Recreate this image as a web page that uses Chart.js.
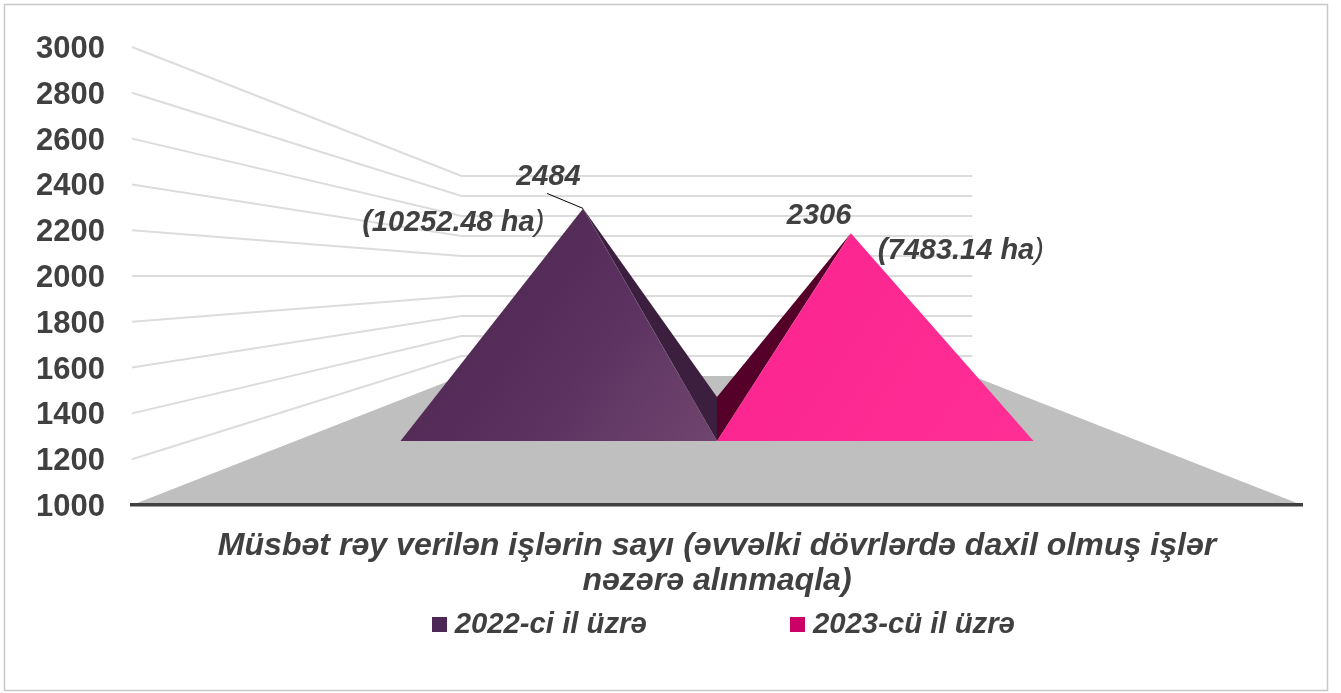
<!DOCTYPE html>
<html>
<head>
<meta charset="utf-8">
<style>html,body{margin:0;padding:0;background:#fff}canvas{display:block}</style>
<script src="https://cdn.jsdelivr.net/npm/chart.js@4/dist/chart.umd.js"></script>
</head>
<body>
<div style="width:1341px;height:693px"><canvas id="c"></canvas></div>
<script>
const categoryLines = ["Müsbət rəy verilən işlərin sayı (əvvəlki dövrlərdə daxil olmuş işlər", "nəzərə alınmaqla)"];
const seriesNames = ["2022-ci il üzrə", "2023-cü il üzrə"];
const seriesValues = [[2484], [2306]];
const areaLabels = ["(10252.48 ha)", "(7483.14 ha)"];
const axisMin = 1000, axisMax = 3000, axisStep = 200;
const legendColors = ["#4b2855", "#cc0066"];

const FONT = "'Liberation Sans', Arial, sans-serif";
const TEXT = "#404040";
// perspective of the 3D box: front plane -> back wall
const depthFront = 0.7205, depthBack = 0.528, depthBackWall = 0.4367;
const depthCenter = 2 / (1 / depthFront + 1 / depthBack);
const faces = [
  {front: ["#4f2852", "#5b3160", "#70466f"], side: "#3c1f3e"},
  {front: ["#fb2590", "#fd2a92", "#ff2f96"], side: "#540029"}
];
const labelOffsets = [
  {value: [-67, -23], area: [-221, 23], leader: [-36, -15]},
  {value: [-64, -9], area: [27, 26], leader: null}
];

function vanish(chart) {
  const a = chart.chartArea;
  return {x: (a.left + a.right) / 2, y: a.bottom - (a.bottom - a.top) * 0.5};
}
function project(v, x, y, f) {
  return {x: v.x + (x - v.x) * f, y: v.y + (y - v.y) * f};
}

class PyramidController extends Chart.BarController {
  draw() {
    const chart = this.chart, ctx = chart.ctx, v = vanish(chart);
    const style = faces[this.index];
    const b = chart.scales.y.getPixelForValue(axisMin);
    this._cachedMeta.data.forEach((bar) => {
      const l = bar.x - bar.width / 2, r = bar.x + bar.width / 2;
      const fl = project(v, l, b, depthFront), fr = project(v, r, b, depthFront);
      const bl = project(v, l, b, depthBack), br = project(v, r, b, depthBack);
      const apex = project(v, bar.x, bar.y, depthCenter);
      const poly = (pts, fill) => {
        ctx.beginPath();
        pts.forEach((p, i) => i ? ctx.lineTo(p.x, p.y) : ctx.moveTo(p.x, p.y));
        ctx.closePath();
        ctx.fillStyle = fill;
        ctx.fill();
      };
      ctx.save();
      if (bar.x < v.x) poly([fr, br, apex], style.side);
      else poly([fl, bl, apex], style.side);
      const g = ctx.createLinearGradient(fl.x, apex.y, fr.x, fr.y);
      g.addColorStop(0.2, style.front[0]);
      g.addColorStop(0.6, style.front[1]);
      g.addColorStop(1, style.front[2]);
      poly([fl, fr, apex], g);
      ctx.restore();
    });
  }
}
PyramidController.id = "pyramid";
PyramidController.defaults = Chart.BarController.defaults;
PyramidController.overrides = Chart.BarController.overrides;
Chart.register(PyramidController);

const boxPlugin = {
  id: "box3d",
  beforeLayout(chart) {
    const legend = chart.legend;
    if (legend && !legend._fitWrapped) {
      const fit = legend.fit;
      legend.fit = function () { fit.call(this); this.height = 70; };
      legend._fitWrapped = true;
    }
  },
  afterLayout(chart) {
    const legend = chart.legend, P = legend.options.labels.padding;
    legend.left = 439 - P;
    legend.top = 624 - 14 - P;
    chart.scales.y.getLabelItems().forEach((it) => { it.options.translation[1] += 2.5; });
  },
  beforeDraw(chart) {
    const ctx = chart.ctx, a = chart.chartArea, v = vanish(chart), y = chart.scales.y;
    ctx.save();
    ctx.fillStyle = "#fff";
    ctx.fillRect(0, 0, chart.width, chart.height);
    ctx.strokeStyle = "#c8c8c8";
    ctx.lineWidth = 1.5;
    ctx.strokeRect(4.5, 4.5, 1323, 686);
    ctx.strokeStyle = "#dcdcdc";
    ctx.lineWidth = 2;
    y.ticks.forEach((t) => {
      const py = y.getPixelForValue(t.value);
      if (t.value === axisMin) return;
      const bL = project(v, a.left, py, depthBackWall), bR = project(v, a.right, py, depthBackWall);
      ctx.beginPath();
      ctx.moveTo(a.left, py);
      ctx.lineTo(bL.x, bL.y);
      ctx.lineTo(bR.x, bR.y);
      ctx.stroke();
    });
    const b0 = y.getPixelForValue(axisMin);
    const bL = project(v, a.left, b0, depthBackWall), bR = project(v, a.right, b0, depthBackWall);
    ctx.fillStyle = "#bfbfbf";
    ctx.beginPath();
    ctx.moveTo(a.left, b0);
    ctx.lineTo(a.right, b0);
    ctx.lineTo(bR.x, bR.y);
    ctx.lineTo(bL.x, bL.y);
    ctx.closePath();
    ctx.fill();
    ctx.restore();
  },
  afterDatasetsDraw(chart) {
    const ctx = chart.ctx, v = vanish(chart);
    ctx.save();
    ctx.fillStyle = TEXT;
    ctx.textBaseline = "alphabetic";
    ctx.textAlign = "left";
    chart.data.datasets.forEach((ds, i) => {
      const bar = chart.getDatasetMeta(i).data[0];
      const apex = project(v, bar.x, bar.y, depthCenter);
      const o = labelOffsets[i];
      if (o.leader) {
        ctx.strokeStyle = "#000";
        ctx.lineWidth = 1;
        ctx.beginPath();
        ctx.moveTo(apex.x + o.leader[0], apex.y + o.leader[1]);
        ctx.lineTo(apex.x, apex.y);
        ctx.stroke();
      }
      ctx.font = "italic bold 29px " + FONT;
      ctx.fillText(String(ds.data[0]), apex.x + o.value[0], apex.y + o.value[1]);
      const s = areaLabels[i], head = s.slice(0, -1);
      const x = apex.x + o.area[0], yy = apex.y + o.area[1];
      ctx.fillText(head, x, yy);
      const w = ctx.measureText(head).width;
      ctx.font = "italic 29px " + FONT;
      ctx.fillText(s.slice(-1), x + w, yy);
    });
    ctx.restore();
  }
};

function markerCanvas(color) {
  const c = document.createElement("canvas");
  c.width = 15; c.height = 15;
  const x = c.getContext("2d");
  x.fillStyle = color;
  x.fillRect(0, 0, 15, 15);
  return c;
}

new Chart(document.getElementById("c"), {
  type: "pyramid",
  data: {
    labels: [categoryLines],
    datasets: seriesNames.map((name, i) => ({
      label: name,
      data: seriesValues[i],
      backgroundColor: legendColors[i],
      borderWidth: 0,
      categoryPercentage: 0.751,
      barPercentage: 1
    }))
  },
  plugins: [boxPlugin],
  options: {
    responsive: true,
    maintainAspectRatio: false,
    animation: false,
    events: [],
    layout: {padding: {top: 47, right: 39, left: 0, bottom: 0}},
    scales: {
      x: {
        type: "category",
        offset: true,
        grid: {display: false, drawTicks: false},
        border: {display: true, color: "#404040", width: 3.5},
        afterFit(s) { s.height = 118; },
        ticks: {
          color: TEXT,
          padding: 24,
          maxRotation: 0,
          autoSkip: false,
          font: {family: FONT, size: 32.1, style: "italic", weight: "bold", lineHeight: 1.09}
        }
      },
      y: {
        type: "linear",
        min: axisMin,
        max: axisMax,
        grid: {display: false, drawTicks: false},
        border: {display: false},
        afterFit(s) { s.width = 132; },
        ticks: {
          stepSize: axisStep,
          color: TEXT,
          padding: 27,
          callback: (v) => String(v),
          font: {family: FONT, size: 31, weight: "bold"}
        }
      }
    },
    plugins: {
      tooltip: {enabled: false},
      legend: {
        display: true,
        position: "bottom",
        align: "start",
        labels: {
          color: TEXT,
          padding: 150.5,
          usePointStyle: true,
          pointStyleWidth: 1,
          boxHeight: 15,
          font: {family: FONT, size: 29.3, style: "italic", weight: "bold"},
          generateLabels(chart) {
            return Chart.defaults.plugins.legend.labels.generateLabels(chart).map((it, i) => {
              it.pointStyle = markerCanvas(legendColors[i]);
              it.strokeStyle = "rgba(0,0,0,0)";
              it.lineWidth = 0;
              return it;
            });
          }
        }
      }
    }
  }
});
</script>
</body>
</html>
